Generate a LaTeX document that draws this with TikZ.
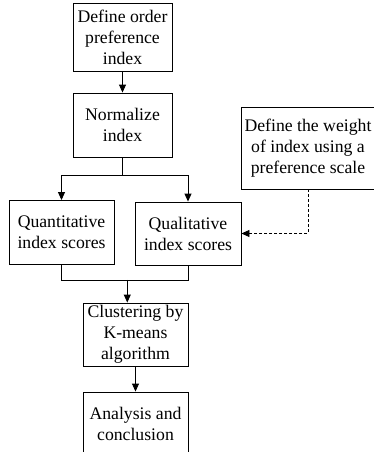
\documentclass[tikz,border=0pt]{standalone}
\usepackage{fontspec}
\setmainfont{Liberation Serif}
\usetikzlibrary{positioning}
\usetikzlibrary{arrows.meta}
\usetikzlibrary{calc}

\begin{document}
\begin{tikzpicture}[
            > = {Triangle[length=8pt,width=7pt]}, % arrow head style
            x = 1pt, y = -1pt, % work in points, downwards
            line width = 0.9pt,
            font = \fontsize{17.7}{21}\selectfont
        ]

        \tikzstyle{stage}=[
            draw,
            align = center,
            inner sep = 0pt
        ]

        \useasboundingbox (0,0) rectangle (373,452);

        % main column
        \node[stage, minimum width=99pt, minimum height=68pt] (order) at (122.5,37) {Define order\\preference\\index};
        \node[stage, minimum width=99pt, minimum height=64pt] (norm) at (122.5,125) {Normalize\\index};

        \path[->] (order) edge node {} (norm);

        % index scores
        \node[stage, minimum width=105pt, minimum height=64pt] (quant) at (61.5,232.5) {Quantitative\\index scores};
        \node[stage, minimum width=106pt, minimum height=63pt] (qual) at (188,233.5) {Qualitative\\index scores};

        \draw (norm.south) -- ++(0,18) coordinate (split);
        \draw[->] (split) -| (quant.north);
        \draw[->] (split) -| (qual.north);

        % weight of index
        \node[stage, minimum width=134pt, minimum height=82pt] (weight) at (308,148) {Define the weight\\of index using a\\preference scale};

        \draw[line width=0.8pt, dash pattern=on 3pt off 2pt, ->] (weight.south) |- (qual.east);

        % clustering and result
        \node[stage, minimum width=105pt, minimum height=63pt] (kmeans) at (135.5,334.5) {Clustering by\\K-means\\algorithm};
        \node[stage, minimum width=105pt, minimum height=63pt] (concl) at (135.5,423.5) {Analysis and\\conclusion};

        \draw (quant.south) -- ++(0,15) coordinate (mergeL) -- (mergeL -| qual.south) coordinate (mergeR) -- (qual.south);
        \coordinate (merge) at ($(mergeL)!0.52!(mergeR)$);
        \draw[->] (merge) -- (merge |- kmeans.north);

        \path[->] (kmeans) edge node {} (concl);

\end{tikzpicture}
\end{document}
